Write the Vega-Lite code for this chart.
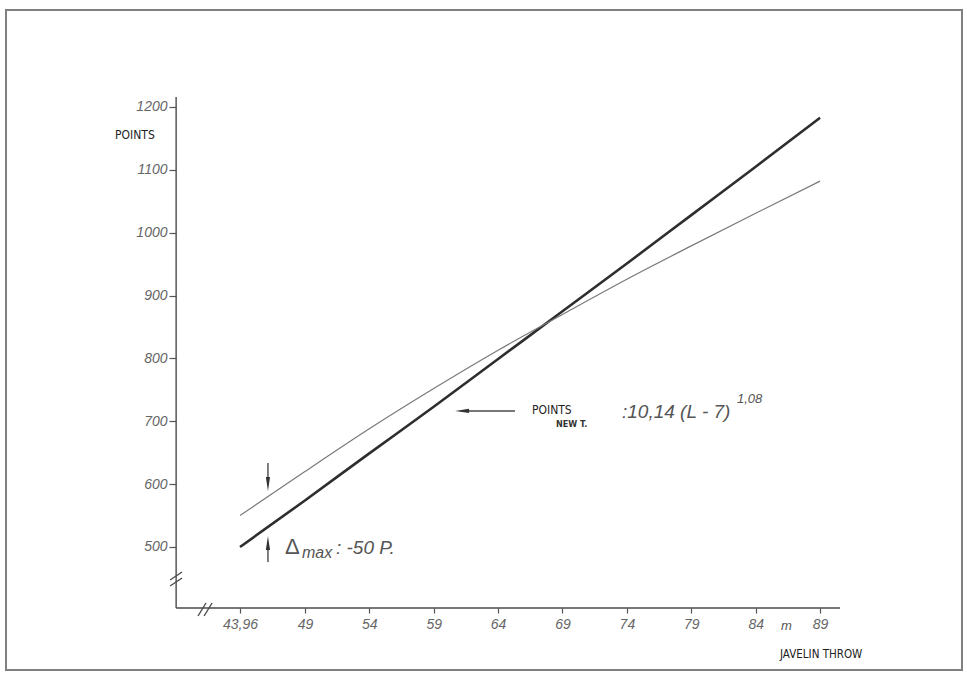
{
  "$schema": "https://vega.github.io/schema/vega-lite/v6.json",
  "width": 956,
  "height": 660,
  "autosize": "none",
  "padding": {"left": 6, "top": 10, "right": 5, "bottom": 4},
  "background": "white",
  "view": {"stroke": "#808080", "strokeWidth": 2},
  "encoding": {
    "x": {
      "field": "L", "type": "quantitative",
      "scale": {"domain": [25.79, 100.02], "nice": false, "zero": false},
      "axis": {
        "orient": "bottom", "offset": -62, "domain": false, "grid": false, "title": null,
        "values": [43.96, 49, 54, 59, 64, 69, 74, 79, 84, 89],
        "labelExpr": "replace(format(datum.value, '.2~f'), '.', ',')",
        "tickSize": 5, "tickColor": "#555", "tickWidth": 1.2,
        "labelFont": "Liberation Sans", "labelFontStyle": "italic", "labelFontSize": 14,
        "labelColor": "#666", "labelPadding": 4
      }
    },
    "y": {
      "field": "P", "type": "quantitative",
      "scale": {"domain": [304.3, 1354.3], "nice": false, "zero": false},
      "axis": {
        "orient": "left", "offset": -170, "domain": false, "grid": false, "title": null,
        "values": [500, 600, 700, 800, 900, 1000, 1100, 1200],
        "format": "d",
        "tickSize": 7, "tickColor": "#555", "tickWidth": 1.2,
        "labelFont": "Liberation Sans", "labelFontStyle": "italic", "labelFontSize": 14,
        "labelColor": "#666", "labelPadding": 2
      }
    }
  },
  "layer": [
    {
      "data": {"values": [
        {"L": 43.96, "P": 500, "series": "new"},
        {"L": 49, "P": 574, "series": "new"},
        {"L": 54, "P": 649, "series": "new"},
        {"L": 59, "P": 723, "series": "new"},
        {"L": 64, "P": 799, "series": "new"},
        {"L": 69, "P": 875, "series": "new"},
        {"L": 74, "P": 951, "series": "new"},
        {"L": 79, "P": 1028, "series": "new"},
        {"L": 84, "P": 1105, "series": "new"},
        {"L": 89, "P": 1183, "series": "new"},
        {"L": 43.96, "P": 550, "series": "old"},
        {"L": 49, "P": 620, "series": "old"},
        {"L": 54, "P": 688, "series": "old"},
        {"L": 59, "P": 752, "series": "old"},
        {"L": 64, "P": 813, "series": "old"},
        {"L": 69, "P": 870, "series": "old"},
        {"L": 74, "P": 926, "series": "old"},
        {"L": 79, "P": 979, "series": "old"},
        {"L": 84, "P": 1031, "series": "old"},
        {"L": 89, "P": 1082, "series": "old"}
      ]},
      "mark": {"type": "line", "interpolate": "monotone"},
      "encoding": {
        "detail": {"field": "series"},
        "color": {"field": "series", "type": "nominal", "scale": {"domain": ["new", "old"], "range": ["#2e2e2e", "#7a7a7a"]}, "legend": null},
        "strokeWidth": {"field": "series", "type": "nominal", "scale": {"domain": ["new", "old"], "range": [2.6, 1.2]}, "legend": null}
      }
    },
    {
      "data": {"values": [
        {"L": 39.0, "P": 403, "L2": 90.55, "P2": 403},
        {"L": 39.0, "P": 403, "L2": 39.0, "P2": 1216},
        {"L": 38.53, "P": 447.5, "L2": 39.46, "P2": 460.2},
        {"L": 38.53, "P": 438.0, "L2": 39.46, "P2": 450.7},
        {"L": 40.70, "P": 390.2, "L2": 41.32, "P2": 410.9},
        {"L": 41.17, "P": 390.2, "L2": 41.79, "P2": 410.9},
        {"L": 61.43, "P": 716.4, "L2": 65.31, "P2": 716.4},
        {"L": 46.13, "P": 633.6, "L2": 46.13, "P2": 600.2},
        {"L": 46.13, "P": 476.1, "L2": 46.13, "P2": 506.4}
      ]},
      "mark": {"type": "rule", "color": "#4a4a4a", "strokeWidth": 1.4},
      "encoding": {
        "x2": {"field": "L2"},
        "y2": {"field": "P2"}
      }
    },
    {
      "data": {"values": [
        {"L": 61.2, "P": 716.4, "dir": "M-1,0L1,-0.3L1,0.3Z"},
        {"L": 46.13, "P": 600.2, "dir": "M0,1L-0.3,-1L0.3,-1Z"},
        {"L": 46.13, "P": 506.4, "dir": "M0,-1L-0.3,1L0.3,1Z"}
      ]},
      "mark": {"type": "point", "filled": true, "color": "#333", "opacity": 1, "size": 196},
      "encoding": {
        "shape": {"field": "dir", "type": "nominal", "scale": null}
      }
    },
    {
      "data": {"values": [
        {"L": 34.26, "P": 1155.4, "label": "POINTS"},
        {"L": 66.63, "P": 718.0, "label": "POINTS"}
      ]},
      "mark": {"type": "text", "align": "left", "baseline": "middle", "font": "Liberation Sans Narrow, DejaVu Sans Condensed, Liberation Sans, sans-serif", "fontSize": 12, "color": "#222"},
      "encoding": {"text": {"field": "label"}}
    },
    {
      "data": {"values": [
        {"L": 85.89, "P": 328.2, "label": "JAVELIN THROW"}
      ]},
      "mark": {"type": "text", "align": "left", "baseline": "middle", "font": "Liberation Sans Narrow, DejaVu Sans Condensed, Liberation Sans, sans-serif", "fontSize": 11.5, "color": "#222"},
      "encoding": {"text": {"field": "label"}}
    },
    {
      "data": {"values": [
        {"L": 68.5, "P": 695.0, "label": "NEW T."}
      ]},
      "mark": {"type": "text", "align": "left", "baseline": "middle", "font": "Liberation Sans Narrow, DejaVu Sans Condensed, Liberation Sans, sans-serif", "fontSize": 9, "fontWeight": "bold", "color": "#333"},
      "encoding": {"text": {"field": "label"}}
    },
    {
      "data": {"values": [
        {"L": 73.62, "P": 714.8, "label": ":10,14 (L - 7)"},
        {"L": 51.41, "P": 498.4, "label": ": -50 P."}
      ]},
      "mark": {"type": "text", "align": "left", "baseline": "middle", "font": "Liberation Sans", "fontStyle": "italic", "fontSize": 19, "color": "#555"},
      "encoding": {"text": {"field": "label"}}
    },
    {
      "data": {"values": [
        {"L": 82.55, "P": 735.4, "label": "1,08"},
        {"L": 85.96, "P": 374.3, "label": "m"}
      ]},
      "mark": {"type": "text", "align": "left", "baseline": "middle", "font": "Liberation Sans", "fontStyle": "italic", "fontSize": 13, "color": "#555"},
      "encoding": {"text": {"field": "label"}}
    },
    {
      "data": {"values": [
        {"L": 48.77, "P": 490.5, "label": "max"}
      ]},
      "mark": {"type": "text", "align": "left", "baseline": "middle", "font": "Liberation Sans", "fontStyle": "italic", "fontSize": 16, "color": "#555"},
      "encoding": {"text": {"field": "label"}}
    },
    {
      "data": {"values": [
        {"L": 47.45, "P": 500.5, "label": "Δ"}
      ]},
      "mark": {"type": "text", "align": "left", "baseline": "middle", "font": "Liberation Sans", "fontSize": 22, "color": "#555"},
      "encoding": {"text": {"field": "label"}}
    }
  ]
}
